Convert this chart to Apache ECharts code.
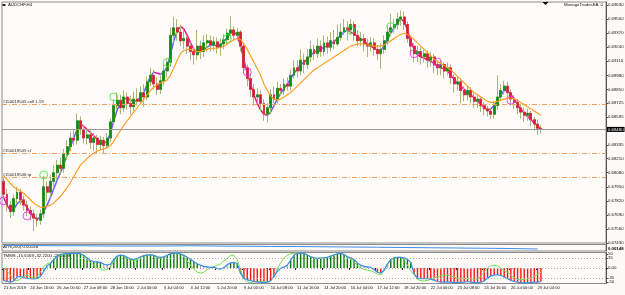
<!DOCTYPE html>
<html>
<head>
<meta charset="utf-8">
<script src="https://cdn.jsdelivr.net/npm/echarts@6/dist/echarts.min.js"></script>
<style>
html,body{margin:0;padding:0;background:#fdfbf9}
#chart{width:625px;height:295px}
</style>
</head>
<body>
<div id="chart"></div>
<script>
// AUDCHF H4 - ManageTradesEA screenshot
const timeLabels = ['21 Jun 2019','24 Jun 16:00','26 Jun 00:00','27 Jun 08:00','28 Jun 16:00','2 Jul 00:00','3 Jul 04:00','4 Jul 12:00','5 Jul 20:00','9 Jul 00:00','10 Jul 08:00','11 Jul 16:00','14 Jul 20:00','16 Jul 04:00','17 Jul 12:00','18 Jul 20:00','22 Jul 00:00','23 Jul 08:00','24 Jul 16:00','26 Jul 00:00','29 Jul 04:00'];
const priceTicks = [0.69630,0.69500,0.69370,0.69240,0.69110,0.68980,0.68850,0.68725,0.68595,0.68335,0.68210,0.68080,0.67950,0.67820,0.67690,0.67560,0.67430];
const tmmsTicks = [50,35,0,-35,-50];
const tmmsLevels = [35,0,-35];
const bid = 0.68480;
const tradeLevels = [0.68715,0.68262,0.68040];
const tradeNames = ['#150019545 sell 1.19','#150019545 sl','#150019546 tp'];

// [open, close, low, high]
const candles = [
[.6800,.6788,.6784,.6803],[.6788,.6778,.6772,.6793],[.6778,.6772,.6766,.6782],[.6772,.6784,.6768,.6788],[.6784,.6790,.6779,.6795],
[.6790,.6783,.6778,.6793],[.6783,.6778,.6773,.6787],[.6778,.6773,.6768,.6782],[.6773,.6770,.6764,.6777],[.6770,.6766,.6754,.6774],
[.6766,.6764,.6758,.6770],[.6764,.6770,.6760,.6774],[.6770,.6795,.6766,.6805],[.6795,.6790,.6782,.6800],[.6790,.6800,.6786,.6806],
[.6800,.6808,.6795,.6815],[.6808,.6815,.6802,.6820],[.6815,.6812,.6806,.6822],[.6812,.6825,.6808,.6830],[.6825,.6832,.6820,.6838],
[.6832,.6840,.6828,.6846],[.6840,.6838,.6833,.6848],[.6838,.6856,.6834,.6863],[.6856,.6848,.6843,.6860],[.6848,.6840,.6835,.6852],
[.6840,.6843,.6834,.6848],[.6843,.6836,.6830,.6847],[.6836,.6840,.6828,.6845],[.6840,.6834,.6826,.6843],[.6834,.6838,.6829,.6842],
[.6838,.6833,.6826,.6841],[.6833,.6840,.6830,.6845],[.6840,.6855,.6836,.6858],[.6855,.6870,.6852,.6876],[.6870,.6875,.6866,.6882],
[.6875,.6868,.6862,.6880],[.6868,.6878,.6864,.6884],[.6878,.6872,.6866,.6882],[.6872,.6869,.6862,.6879],[.6869,.6876,.6865,.6883],
[.6876,.6874,.6870,.6886],[.6874,.6882,.6871,.6888],[.6882,.6878,.6869,.6890],[.6878,.6892,.6875,.6897],[.6892,.6898,.6888,.6905],
[.6898,.6890,.6885,.6903],[.6890,.6885,.6880,.6896],[.6885,.6893,.6881,.6898],[.6893,.6902,.6889,.6908],[.6902,.6910,.6896,.6913],
[.6910,.6935,.6906,.6942],[.6935,.6942,.6928,.6952],[.6942,.6938,.6930,.6950],[.6938,.6930,.6925,.6945],[.6930,.6932,.6922,.6940],
[.6932,.6925,.6918,.6935],[.6925,.6920,.6912,.6928],[.6920,.6917,.6908,.6924],[.6917,.6925,.6912,.6940],[.6925,.6920,.6913,.6930],
[.6920,.6928,.6915,.6935],[.6928,.6930,.6920,.6936],[.6930,.6926,.6920,.6935],[.6926,.6929,.6921,.6934],[.6929,.6924,.6918,.6933],
[.6924,.6927,.6916,.6932],[.6927,.6931,.6922,.6936],[.6931,.6937,.6927,.6941],[.6937,.6940,.6932,.6953],[.6940,.6935,.6930,.6943],
[.6935,.6938,.6930,.6942],[.6938,.6925,.6920,.6940],[.6925,.6905,.6900,.6928],[.6905,.6895,.6888,.6908],[.6895,.6885,.6878,.6900],
[.6885,.6878,.6870,.6890],[.6878,.6880,.6872,.6886],[.6880,.6872,.6865,.6884],[.6872,.6862,.6856,.6876],[.6862,.6868,.6854,.6872],
[.6868,.6880,.6862,.6885],[.6880,.6876,.6872,.6888],[.6876,.6886,.6872,.6892],[.6886,.6884,.6880,.6890],[.6884,.6890,.6880,.6895],
[.6890,.6888,.6884,.6896],[.6888,.6898,.6884,.6903],[.6898,.6905,.6895,.6912],[.6905,.6902,.6896,.6912],[.6902,.6912,.6898,.6922],
[.6912,.6908,.6900,.6918],[.6908,.6915,.6904,.6922],[.6915,.6922,.6910,.6930],[.6922,.6918,.6912,.6926],[.6918,.6925,.6914,.6932],
[.6925,.6920,.6915,.6930],[.6920,.6928,.6916,.6935],[.6928,.6924,.6918,.6934],[.6924,.6930,.6920,.6938],[.6930,.6927,.6922,.6940],
[.6927,.6933,.6925,.6945],[.6933,.6938,.6930,.6946],[.6938,.6942,.6935,.6950],[.6942,.6940,.6930,.6948],[.6940,.6945,.6935,.6950],
[.6945,.6935,.6930,.6948],[.6935,.6930,.6925,.6940],[.6930,.6932,.6925,.6938],[.6932,.6927,.6920,.6936],[.6927,.6925,.6915,.6932],
[.6925,.6928,.6920,.6933],[.6928,.6922,.6916,.6932],[.6922,.6918,.6912,.6926],[.6918,.6922,.6904,.6928],[.6922,.6930,.6918,.6935],
[.6930,.6938,.6926,.6944],[.6938,.6942,.6934,.6955],[.6942,.6945,.6937,.6950],[.6945,.6950,.6940,.6956],[.6950,.6952,.6944,.6958],
[.6952,.6945,.6940,.6957],[.6945,.6932,.6928,.6948],[.6932,.6925,.6918,.6935],[.6925,.6918,.6910,.6928],[.6918,.6920,.6910,.6925],
[.6920,.6915,.6908,.6924],[.6915,.6918,.6910,.6922],[.6918,.6912,.6905,.6921],[.6912,.6915,.6906,.6920],[.6915,.6908,.6900,.6918],
[.6908,.6905,.6898,.6912],[.6905,.6908,.6898,.6912],[.6908,.6902,.6895,.6910],[.6902,.6905,.6898,.6910],[.6905,.6896,.6890,.6908],
[.6896,.6890,.6882,.6899],[.6890,.6892,.6884,.6897],[.6892,.6884,.6872,.6895],[.6884,.6880,.6874,.6888],[.6880,.6884,.6875,.6888],
[.6884,.6878,.6872,.6887],[.6878,.6874,.6868,.6882],[.6874,.6876,.6868,.6880],[.6876,.6870,.6864,.6878],[.6870,.6867,.6861,.6873],
[.6867,.6865,.6860,.6870],[.6865,.6862,.6858,.6868],[.6862,.6870,.6858,.6874],[.6870,.6878,.6866,.6898],[.6878,.6884,.6874,.6890],
[.6884,.6888,.6880,.6893],[.6888,.6882,.6877,.6892],[.6882,.6876,.6870,.6885],[.6876,.6873,.6867,.6880],[.6873,.6868,.6862,.6876],
[.6868,.6864,.6858,.6872],[.6864,.6861,.6855,.6868],[.6861,.6863,.6856,.6867],[.6863,.6857,.6851,.6865],[.6857,.6853,.6847,.6860],
[.6853,.6849,.6843,.6857],[.6849,.6848,.6844,.6852]
];

const fastLine = [
.6785,.6778,.6773,.6774,.6779,.6782,.6780,.6776,.6771,.6767,
.6765,.6767,.6772,.6778,.6785,.6793,.6801,.6808,.6816,.6824,
.6832,.6840,.6848,.6853,.6851,.6848,.6845,.6842,.6839,.6836,
.6835,.6837,.6845,.6856,.6866,.6872,.6876,.6877,.6875,.6874,
.6875,.6878,.6882,.6890,.6897,.6901,.6900,.6899,.6901,.6906,
.6918,.6930,.6939,.6943,.6941,.6935,.6928,.6922,.6919,.6920,
.6922,.6924,.6926,.6926,.6925,.6926,.6929,.6933,.6937,.6938,
.6935,.6925,.6912,.6900,.6890,.6880,.6872,.6866,.6862,.6861,
.6864,.6870,.6876,.6881,.6886,.6890,.6895,.6900,.6904,.6908,
.6910,.6913,.6917,.6919,.6921,.6922,.6924,.6925,.6927,.6929,
.6932,.6935,.6938,.6940,.6938,.6936,.6934,.6932,.6930,.6927,
.6925,.6923,.6921,.6921,.6925,.6931,.6937,.6942,.6947,.6950,
.6948,.6940,.6930,.6922,.6917,.6915,.6914,.6912,.6911,.6909,
.6906,.6905,.6904,.6902,.6898,.6894,.6891,.6888,.6885,.6883,
.6880,.6877,.6874,.6871,.6868,.6866,.6867,.6870,.6875,.6880,
.6884,.6884,.6880,.6876,.6871,.6867,.6863,.6860,.6857,.6854,
.6851,.6849
];

const slowLine = [
.6805,.6802,.6798,.6795,.6793,.6791,.6789,.6786,.6783,.6780,
.6778,.6776,.6776,.6777,.6778,.6780,.6783,.6786,.6790,.6794,
.6799,.6804,.6810,.6815,.6818,.6821,.6824,.6826,.6828,.6829,
.6830,.6831,.6833,.6837,.6842,.6847,.6852,.6856,.6860,.6864,
.6868,.6872,.6876,.6880,.6884,.6887,.6889,.6891,.6892,.6894,
.6898,.6905,.6912,.6918,.6921,.6922,.6922,.6921,.6920,.6920,
.6921,.6922,.6923,.6923,.6923,.6924,.6925,.6927,.6929,.6931,
.6932,.6931,.6927,.6922,.6916,.6910,.6904,.6898,.6890,.6884,
.6879,.6876,.6875,.6876,.6878,.6880,.6882,.6885,.6888,.6891,
.6894,.6897,.6900,.6903,.6905,.6907,.6909,.6911,.6913,.6915,
.6917,.6919,.6921,.6923,.6925,.6926,.6927,.6927,.6927,.6926,
.6926,.6925,.6925,.6925,.6926,.6928,.6930,.6932,.6934,.6936,
.6937,.6936,.6934,.6931,.6928,.6925,.6922,.6919,.6916,.6913,
.6911,.6909,.6907,.6905,.6903,.6900,.6897,.6894,.6891,.6888,
.6885,.6882,.6880,.6878,.6876,.6874,.6873,.6873,.6874,.6875,
.6876,.6877,.6877,.6876,.6875,.6873,.6871,.6869,.6867,.6865,
.6863,.6861
];

// [bar index, price]
const buySignals = [[12,.6806],[33,.6878],[49,.6910],[67,.6932],[104,.6940],[116,.6943]];
const sellSignals = [[0,.6782],[7,.6768],[73,.6901],[123,.6918],[130,.6910],[152,.6875]];

// ATR(200), one reading every 8 bars
const atr = [0.00162,0.00162,0.00161,0.00161,0.00160,0.00160,0.00160,0.00161,0.00160,0.00159,0.00158,0.00158,0.00157,0.00156,0.00155,0.00154,0.00153,0.00152,0.00151,0.00150,0.00148];

const tmms = [
-45,-48,-50,-46,-32,-30,-34,-37,-38,-39,
-37,-30,-12,8,15,30,42,48,50,51,
52,52,53,50,45,36,27,22,22,20,
14,10,14,30,42,46,44,38,32,30,
34,40,44,46,47,45,40,38,40,45,
50,53,53,50,45,38,30,22,15,10,
6,4,2,3,-2,-4,2,12,18,20,
16,-20,-36,-42,-45,-48,-50,-50,-52,-50,
-45,-30,-12,-2,4,10,28,45,52,53,
52,46,40,36,34,35,36,38,42,46,
50,52,48,40,36,30,18,10,6,4,
2,-6,-15,-18,-8,14,30,36,38,38,
36,30,20,-20,-36,-38,-38,-37,-40,-44,
-48,-50,-50,-49,-50,-52,-52,-51,-50,-48,
-50,-52,-52,-50,-46,-35,-28,-25,-24,-26,
-32,-38,-44,-48,-50,-52,-53,-52,-52,-50,
-50,-48
];

const tmmsSignal = [
0,-10,-25,-40,-45,-40,-30,-25,-30,-35,
-30,-15,5,15,20,30,40,45,48,50,
52,52,53,50,40,30,20,10,0,-5,
-8,-5,5,25,40,45,42,35,28,25,
30,38,44,46,47,45,38,35,40,45,
50,53,53,50,40,25,10,-5,-15,-18,
-15,-5,0,5,10,15,25,35,45,45,
30,-10,-40,-50,-52,-50,-48,-46,-48,-50,
-45,-30,-5,20,35,45,50,52,53,53,
52,46,40,36,34,35,36,38,42,46,
50,52,48,40,30,20,10,0,-5,-8,
-10,-15,-22,-25,-10,15,30,36,38,38,
30,10,-10,-25,-40,-45,-46,-44,-40,-35,
-30,-28,-26,-25,-28,-32,-36,-38,-38,-36,
-38,-40,-38,-30,-15,0,8,10,8,0,
-10,-15,-25,-35,-40,-42,-40,-38,-36,-30,
-22,-16
];

const SLOTS = 181;
const FONT = '"Liberation Sans", "DejaVu Sans", sans-serif';
const FS = 4.3;
const cats = Array.from({length: SLOTS}, (_, i) => String(i));

let myChart = echarts.init(document.getElementById('chart'), null, {renderer: 'canvas'});

function gridBox(top, height) {
	return {left: 2, top: top, width: 604, height: height, show: true, backgroundColor: '#fffbf8',
		borderColor: '#8c8c8c', borderWidth: 1, outerBoundsMode: 'none'};
}

function catAxis(g, showLabels) {
	return {
		type: 'category', gridIndex: g, data: cats, boundaryGap: true,
		axisLine: {show: false},
		axisTick: showLabels ? {show: true, length: 2, interval: (i) => i % 8 === 0 && i / 8 < timeLabels.length, lineStyle: {color: '#222'}} : {show: false},
		axisLabel: showLabels ? {
			show: true, interval: 0, margin: 2, align: 'left', fontSize: 4.05, color: '#111', fontFamily: FONT,
			formatter: (v, idx) => (idx % 8 === 0 && idx / 8 < timeLabels.length) ? timeLabels[idx / 8] : ''
		} : {show: false},
		splitLine: {show: false}
	};
}

const bodies = candles.map(([o, c]) => [o, c, Math.min(o, c), Math.max(o, c)]);

const tradeMarks = tradeLevels.map((v, k) => ({
	yAxis: v, name: tradeNames[k],
	lineStyle: {color: '#f0a060', type: [5, 2, 1, 2], width: 1},
	label: {position: 'insideStartTop', formatter: '{b}', fontSize: FS, color: '#222', distance: 0.5, fontFamily: FONT}
}));
const bidMark = {
	yAxis: bid, name: 'bid',
	lineStyle: {color: '#9a9a9a', type: 'solid', width: 1},
	label: {position: 'end', distance: 1, formatter: () => bid.toFixed(5), fontSize: FS, color: '#fff', backgroundColor: '#000', padding: [0.5, 1], fontFamily: FONT}
};

myChart.setOption({
	animation: false,
	backgroundColor: '#fdfbf9',
	textStyle: {fontFamily: FONT},
	grid: [gridBox(2, 241), gridBox(244.5, 6.5), gridBox(252.5, 31)],
	xAxis: [catAxis(0, false), catAxis(1, false), catAxis(2, true)],
	yAxis: [
		{
			type: 'value', gridIndex: 0, position: 'right', min: 0.67430, max: 0.69658,
			axisLine: {show: true, lineStyle: {color: '#555'}},
			axisTick: {show: true, length: 2, customValues: priceTicks, lineStyle: {color: '#555'}},
			axisLabel: {customValues: priceTicks, formatter: (v) => v.toFixed(5), fontSize: FS, color: '#111', margin: 2, fontFamily: FONT},
			splitLine: {show: false}
		},
		{
			type: 'value', gridIndex: 1, position: 'right', min: 0.00140, max: 0.00166,
			axisLine: {show: true, lineStyle: {color: '#555'}},
			axisTick: {show: false},
			axisLabel: {customValues: [0.00148], formatter: (v) => v.toFixed(5), fontSize: FS, color: '#000', fontWeight: 'bold', margin: 2, fontFamily: FONT},
			splitLine: {show: false}
		},
		{
			type: 'value', gridIndex: 2, position: 'right', min: -55, max: 55,
			axisLine: {show: true, lineStyle: {color: '#555'}},
			axisTick: {show: true, length: 2, customValues: tmmsTicks, lineStyle: {color: '#555'}},
			axisLabel: {customValues: tmmsTicks, formatter: (v) => v === 0 ? '0.00' : String(v), fontSize: FS, color: '#111', margin: 2, fontFamily: FONT},
			splitLine: {show: false}
		}
	],
	graphic: [
		{type: 'rect', shape: {x: 2.5, y: 4, width: 3, height: 2}, style: {fill: '#222'}},
		{type: 'text', left: 8, top: 3.2, style: {text: 'AUDCHF,H4', fontSize: FS, fill: '#111', fontFamily: FONT}},
		{type: 'text', right: 21, top: 3.2, style: {text: 'ManageTradesEA \u263A', fontSize: FS, fill: '#111', fontFamily: FONT}},
		{type: 'polygon', shape: {points: [[542.5, 2], [548.5, 2], [545.5, 5]]}, style: {fill: '#000'}},
		{type: 'text', left: 3, top: 245.3, style: {text: 'ATR(200) 0.00148', fontSize: FS, fill: '#111', fontFamily: FONT}},
		{type: 'text', left: 3, top: 253.5, style: {text: 'TMMS -15.6169 -32.2200 -29.6659', fontSize: FS, fill: '#111', fontFamily: FONT}}
	],
	series: [
		{
			//影线
			type: 'candlestick', xAxisIndex: 0, yAxisIndex: 0, data: candles, barWidth: '72%',
			itemStyle: {color: '#a6b67a', color0: '#a6b67a', borderColor: '#a6b67a', borderColor0: '#a6b67a', borderWidth: 1}
		},
		{
			//实体
			type: 'candlestick', xAxisIndex: 0, yAxisIndex: 0, data: bodies, barWidth: '72%',
			itemStyle: {color: '#0d8a14', color0: '#e0143c', borderColor: '#0d8a14', borderColor0: '#e0143c', borderWidth: 0.6}
		},
		{
			type: 'line', xAxisIndex: 0, yAxisIndex: 0, data: slowLine, symbol: 'none',
			lineStyle: {color: '#ff9a1a', width: 1.1},
			markLine: {silent: true, precision: 5, symbol: ['none', 'none'], data: tradeMarks.concat([bidMark])}
		},
		{
			type: 'custom', xAxisIndex: 0, yAxisIndex: 0,
			data: fastLine.slice(1).map((v, k) => [k + 1, fastLine[k], v]),
			encode: {x: 0, y: [1, 2]},
			renderItem: (params, api) => {
				const i = api.value(0), a = api.value(1), b = api.value(2);
				const p0 = api.coord([i - 1, a]), p1 = api.coord([i, b]);
				return {type: 'line', shape: {x1: p0[0], y1: p0[1], x2: p1[0], y2: p1[1]},
					style: {stroke: b >= a ? '#6b5cf5' : '#f2168c', lineWidth: 1.5}};
			}
		},
		{
			type: 'scatter', xAxisIndex: 0, yAxisIndex: 0, data: buySignals, symbol: 'circle', symbolSize: 8,
			itemStyle: {color: 'rgba(0,0,0,0)', borderColor: '#33ee33', borderWidth: 1}
		},
		{
			type: 'scatter', xAxisIndex: 0, yAxisIndex: 0, data: sellSignals, symbol: 'circle', symbolSize: 8,
			itemStyle: {color: 'rgba(0,0,0,0)', borderColor: '#ee22ee', borderWidth: 1}
		},
		{
			type: 'line', xAxisIndex: 1, yAxisIndex: 1, data: atr.map((v, k) => [k * 8, v]), symbol: 'none',
			lineStyle: {color: '#3d8ee8', width: 1}
		},
		{
			type: 'bar', xAxisIndex: 2, yAxisIndex: 2, barWidth: 1.4,
			data: tmms.map((v) => ({value: v, itemStyle: {color: v >= 15 ? '#067a06' : (v <= -15 ? '#ff1414' : '#a8a8a8')}}))
		},
		{
			type: 'line', xAxisIndex: 2, yAxisIndex: 2, data: tmmsSignal, symbol: 'none',
			lineStyle: {color: '#77e055', width: 1},
			markLine: {
				silent: true, symbol: ['none', 'none'], label: {show: false},
				lineStyle: {color: '#b0b0b0', type: [1, 2], width: 1},
				data: tmmsLevels.map((v) => ({yAxis: v}))
			}
		},
		{
			type: 'line', xAxisIndex: 2, yAxisIndex: 2, data: tmms, symbol: 'none',
			lineStyle: {color: '#3d8ee8', width: 1.2}
		}
	]
});
</script>
</body>
</html>
